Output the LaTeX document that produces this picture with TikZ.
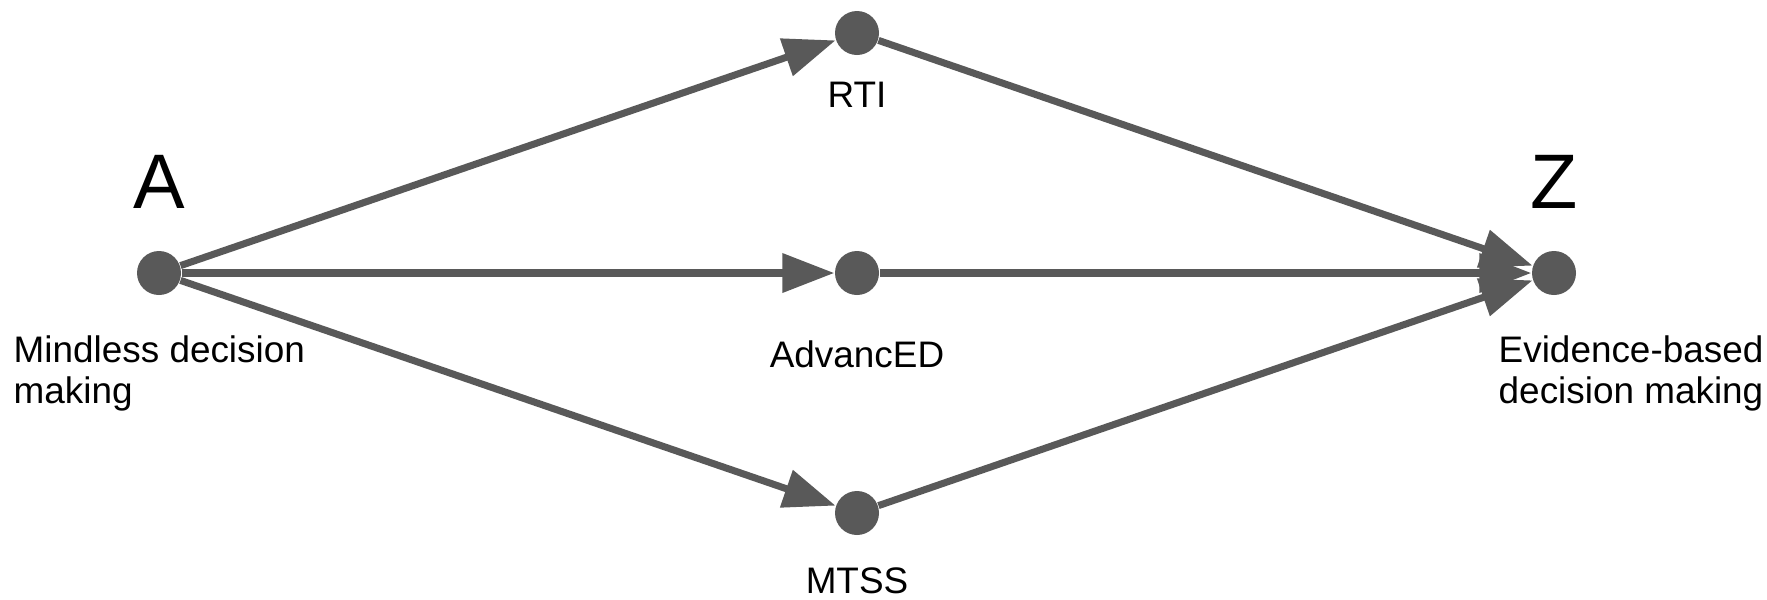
\documentclass[tikz,border=0pt]{standalone}
\usepackage{fontspec}
\setmainfont{Liberation Sans}
\usetikzlibrary{arrows.meta,positioning}
\definecolor{pathgray}{RGB}{89,89,89}
\tikzset{
  milestone/.style={circle, fill=pathgray, inner sep=0pt, minimum size=4.4mm},
  route/.style={pathgray, line width=2pt, -{Triangle[length=5.2mm,width=3.8mm]}},
  stagelabel/.style={font=\fontsize{10.5}{11.4}\selectfont, inner sep=0pt},
  endletter/.style={font=\fontsize{22}{26}\selectfont, inner sep=0pt, anchor=base}
}
\begin{document}
\begin{tikzpicture}
\useasboundingbox (0,0) rectangle (17.67,5.99);
% Start, three routes, goal
\node[milestone] (start) at (1.59,3.26) {};
\node[milestone] (rti) at (8.57,5.66) {};
\node[milestone] (advanced) at (8.57,3.26) {};
\node[milestone] (mtss) at (8.57,0.86) {};
\node[milestone] (goal) at (15.54,3.26) {};
% Letters
\node[endletter] (startletter) at (1.59,3.91) {A};
\node[endletter] (goalletter) at (15.54,3.91) {Z};
% Labels
\node[stagelabel, anchor=base west, align=left] (startlabel) at (0.13,1.96) {Mindless decision\\making};
\node[stagelabel, anchor=base west, align=left] (goallabel) at (14.98,1.96) {Evidence-based\\decision making};
\node[stagelabel, anchor=base] (rtilabel) at (8.57,4.92) {RTI};
\node[stagelabel, anchor=base] (advancedlabel) at (8.57,2.32) {AdvancED};
\node[stagelabel, anchor=base] (mtsslabel) at (8.57,0.06) {MTSS};
% Routes
\foreach \via in {rti,advanced,mtss} {
  \draw[route] (start) -- (\via);
  \draw[route] (\via) -- (goal);
}
\end{tikzpicture}
\end{document}
